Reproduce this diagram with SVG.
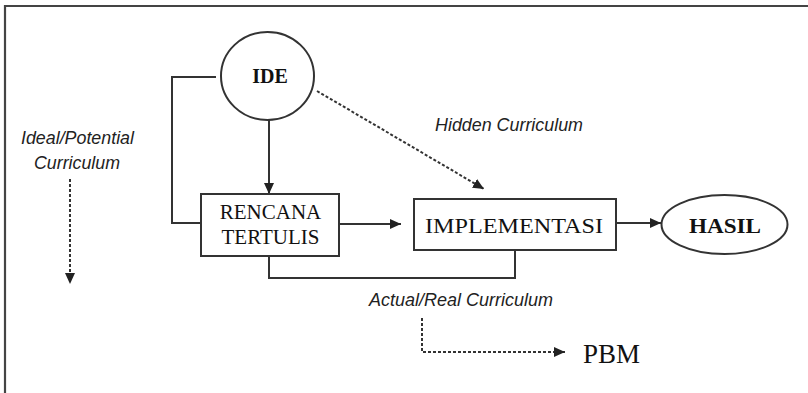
<svg xmlns="http://www.w3.org/2000/svg" width="808" height="393" viewBox="0 0 808 393">
<style>
.frame{fill:none;stroke:#444;stroke-width:2.2}
.node{fill:#fff;stroke:#333;stroke-width:2}
.ln{fill:none;stroke:#333;stroke-width:2}
.dot{fill:none;stroke:#333;stroke-width:2;stroke-dasharray:3 2}
.serif{font-family:"Liberation Serif","Times New Roman",serif;fill:#111}
.lbl{font-family:"Liberation Sans",Arial,sans-serif;font-style:italic;fill:#222;font-size:18px}
</style>
<defs>
<marker id="ah" markerUnits="userSpaceOnUse" markerWidth="11" markerHeight="10" refX="11" refY="5" orient="auto">
<path d="M0,0 L11,5 L0,10 z" fill="#222"/>
</marker>
</defs>
<rect width="808" height="393" fill="#fff"/>
<path class="frame" d="M5,393 L5,6 L808,6"/>
<g id="connectors">
<line class="ln" x1="269" y1="120" x2="269" y2="194" stroke-width="2.6" marker-end="url(#ah)"/>
<polyline class="ln" points="216,77 172,77 172,223 201,223"/>
<line class="ln" x1="339" y1="224" x2="401" y2="224" marker-end="url(#ah)"/>
<line class="ln" x1="616" y1="223" x2="661" y2="223" marker-end="url(#ah)"/>
<polyline class="ln" points="269,256 269,278 515,278 515,250"/>
<line class="dot" x1="317" y1="91" x2="484" y2="189" marker-end="url(#ah)"/>
<line class="dot" x1="70" y1="179" x2="70" y2="284" marker-end="url(#ah)"/>
<polyline class="dot" points="422,318 422,352 565,352" marker-end="url(#ah)"/>
</g>
<g id="ide">
<ellipse class="node" cx="267.5" cy="76" rx="46.5" ry="44"/>
<text class="serif" x="270" y="83" font-size="20" font-weight="bold" text-anchor="middle">IDE</text>
</g>
<g id="rencana">
<rect class="node" x="201" y="194" width="138" height="62"/>
<text class="serif" x="270.5" y="219" font-size="21" text-anchor="middle">RENCANA</text>
<text class="serif" x="270.5" y="244" font-size="21" text-anchor="middle">TERTULIS</text>
</g>
<g id="implementasi">
<rect class="node" x="414" y="199" width="202" height="51"/>
<text class="serif" x="425" y="233" font-size="22" textLength="178" lengthAdjust="spacingAndGlyphs">IMPLEMENTASI</text>
</g>
<g id="hasil">
<ellipse class="node" cx="724.5" cy="224.5" rx="63" ry="29.5"/>
<text class="serif" x="689" y="233" font-size="21" font-weight="bold" textLength="72" lengthAdjust="spacingAndGlyphs">HASIL</text>
</g>
<g id="labels">
<text class="lbl" x="435" y="131" font-size="19" textLength="148" lengthAdjust="spacingAndGlyphs">Hidden Curriculum</text>
<text class="lbl" x="21" y="144" font-size="19" textLength="113" lengthAdjust="spacingAndGlyphs">Ideal/Potential</text>
<text class="lbl" x="34" y="169" font-size="19" textLength="86" lengthAdjust="spacingAndGlyphs">Curriculum</text>
<text class="lbl" x="369" y="306" font-size="19" textLength="184" lengthAdjust="spacingAndGlyphs">Actual/Real Curriculum</text>
<text class="serif" x="583" y="363" font-size="27" textLength="57" lengthAdjust="spacingAndGlyphs">PBM</text>
</g>
</svg>
